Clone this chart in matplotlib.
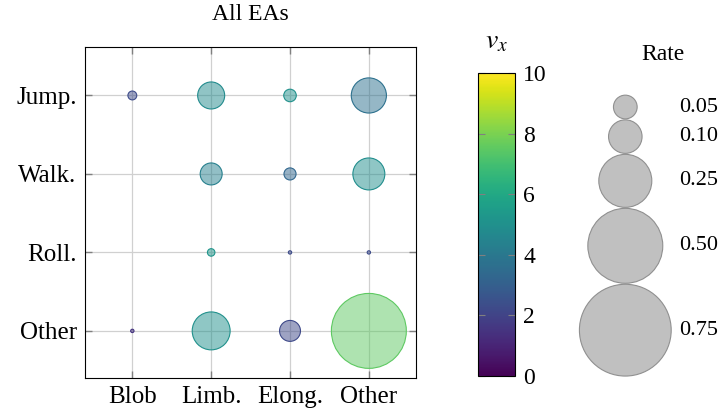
import numpy as np
import matplotlib
matplotlib.use("Agg")
import matplotlib.pyplot as plt
from matplotlib.colors import Normalize

plt.rcParams['font.family'] = ['Liberation Serif', 'DejaVu Serif']
plt.rcParams['mathtext.fontset'] = 'stix'

# categories
x_labels = ['Blob', 'Limb.', 'Elong.', 'Other']
y_labels = ['Other', 'Roll.', 'Walk.', 'Jump.']   # bottom to top

# rate (bubble area), rows follow y_labels
rate_other = [0.001, 0.128, 0.039, 0.50]
rate_roll = [0.0, 0.005, 0.001, 0.001]
rate_walk = [0.0, 0.043, 0.013, 0.091]
rate_jump = [0.007, 0.065, 0.014, 0.11]

# mean v_x (colour)
vx_other = [1.5, 5.0, 2.2, 7.5]
vx_roll = [np.nan, 5.2, 2.3, 2.3]
vx_walk = [np.nan, 4.3, 3.3, 4.9]
vx_jump = [2.3, 4.8, 5.0, 3.7]

legend_rates = [0.05, 0.10, 0.25, 0.50, 0.75]

SCALE = 5822  # points^2 per unit rate

rates = np.array([rate_other, rate_roll, rate_walk, rate_jump])
vxs = np.array([vx_other, vx_roll, vx_walk, vx_jump])

fig = plt.figure(figsize=(7.23, 4.15), dpi=100)
ax = fig.add_axes([0.1176, 0.0892, 0.458, 0.798])

norm = Normalize(0, 10)
cmap = plt.get_cmap('viridis')

xx, yy = np.meshgrid(np.arange(len(x_labels)), np.arange(len(y_labels)))
mask = rates.ravel() > 0
r = rates.ravel()[mask]
v = vxs.ravel()[mask]
edge = cmap(norm(v))
face = edge.copy()
face[:, 3] = 0.5
ax.scatter(xx.ravel()[mask], yy.ravel()[mask], s=r * SCALE,
           facecolors=face, edgecolors=edge, linewidths=0.8, zorder=3)

ax.set_xlim(-0.6, 3.6)
ax.set_ylim(-0.6, 3.62)
ax.set_xticks(range(len(x_labels)))
ax.set_xticklabels(x_labels)
ax.set_yticks(range(len(y_labels)))
ax.set_yticklabels(y_labels)
ax.tick_params(direction='in', length=5, width=1, color='#808080',
               top=True, right=True, labelsize=18, pad=6)
ax.grid(True, color='#d0d0d0', linewidth=0.9, zorder=0)
ax.set_axisbelow(True)
ax.set_title('All EAs', fontsize=17, pad=19)

# colourbar
cax = fig.add_axes([0.661, 0.094, 0.051, 0.730])
sm = plt.cm.ScalarMappable(norm=norm, cmap=cmap)
cb = fig.colorbar(sm, cax=cax, ticks=[0, 2, 4, 6, 8, 10])
cb.outline.set_linewidth(0.8)
cax.tick_params(direction='in', length=5, color='#808080', left=True,
                right=True, labelsize=17, pad=6)
cax.set_title('$v_x$', fontsize=20, pad=18)

# size legend
lax = fig.add_axes([0.76, 0.0, 0.24, 1.0])
lax.set_xlim(0, 1)
lax.set_ylim(415, 0)
lax.axis('off')
radii = np.sqrt(np.array(legend_rates) * SCALE) / 0.72 / 2  # pixels
centres = 107 + np.concatenate([[0], np.cumsum(radii[:-1] + radii[1:] + 1)])
lax.scatter(np.full(len(legend_rates), 0.437), centres,
            s=np.array(legend_rates) * SCALE, facecolor='#c0c0c0',
            edgecolor='#909090', linewidth=0.8)
for c, lr in zip(centres, legend_rates):
    lax.text(0.745, c, f'{lr:.2f}', fontsize=16, va='center', ha='left')
lax.text(0.655, 55, 'Rate', fontsize=17, ha='center', va='center')

fig.savefig('out.png', dpi=100)
